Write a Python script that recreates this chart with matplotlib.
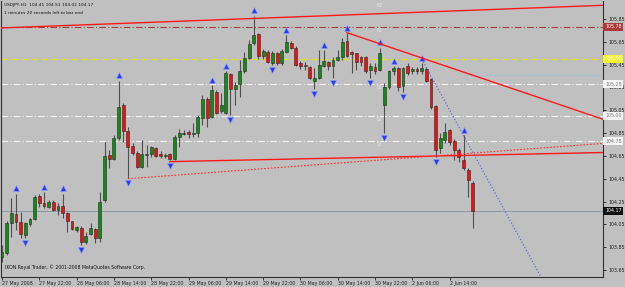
import matplotlib
matplotlib.use("Agg")
import matplotlib.pyplot as plt
import matplotlib.transforms as mtransforms
import numpy as np

# USDJPY H1 bars, 27 May 14:00 .. 2 Jun 19:00
opens = [103.76, 103.80, 104.06, 104.14, 104.07, 103.96, 104.05, 104.10, 104.30, 104.24,
         104.20, 104.25, 104.18, 104.21, 104.15, 104.08, 104.00, 104.02, 103.90, 103.97,
         104.01, 103.93, 104.26, 104.66, 104.62, 104.81, 105.10, 104.87, 104.74, 104.68,
         104.55, 104.66, 104.67, 104.72, 104.67, 104.65, 104.67, 104.62, 104.82, 104.84,
         104.86, 104.84, 104.85, 104.98, 105.15, 104.99, 105.21, 105.04, 105.03, 105.37,
         105.24, 105.28, 105.39, 105.51, 105.64, 105.72, 105.53, 105.56, 105.46, 105.55,
         105.46, 105.56, 105.64, 105.60, 105.46, 105.45, 105.43, 105.31, 105.33, 105.44,
         105.47, 105.44, 105.49, 105.52, 105.66, 105.56, 105.55, 105.52, 105.52, 105.40,
         105.43, 105.40, 105.10, 105.25, 105.39, 105.42, 105.26, 105.44, 105.39, 105.41,
         105.39, 105.41, 105.32, 105.09, 104.72, 104.79, 104.88, 104.78, 104.70, 104.61,
         104.53, 104.41]
highs = [103.87, 104.08, 104.28, 104.32, 104.16, 104.07, 104.11, 104.31, 104.32, 104.33,
         104.26, 104.26, 104.24, 104.32, 104.16, 104.08, 104.04, 104.04, 103.98, 104.06,
         104.02, 104.33, 104.77, 104.70, 104.83, 105.31, 105.11, 104.90, 104.76, 104.69,
         104.79, 104.75, 104.74, 104.73, 104.69, 104.68, 104.68, 104.83, 104.89, 104.88,
         104.88, 104.94, 105.01, 105.18, 105.17, 105.27, 105.23, 105.20, 105.39, 105.38,
         105.30, 105.49, 105.56, 105.67, 105.88, 105.73, 105.59, 105.58, 105.57, 105.56,
         105.59, 105.71, 105.66, 105.61, 105.48, 105.47, 105.44, 105.42, 105.58, 105.58,
         105.48, 105.52, 105.58, 105.68, 105.73, 105.57, 105.55, 105.53, 105.53, 105.46,
         105.46, 105.60, 105.29, 105.40, 105.44, 105.43, 105.43, 105.46, 105.43, 105.43,
         105.46, 105.43, 105.33, 105.10, 104.85, 104.94, 104.89, 104.80, 104.72, 104.83,
         104.54, 104.43]
lows = [103.72, 103.78, 103.94, 104.00, 103.93, 103.93, 104.04, 104.09, 104.20, 104.19,
        104.19, 104.17, 104.13, 104.11, 103.98, 104.00, 103.98, 103.87, 103.88, 103.96,
        103.89, 103.90, 104.25, 104.54, 104.61, 104.79, 104.77, 104.46, 104.66, 104.54,
        104.54, 104.55, 104.64, 104.64, 104.63, 104.63, 104.61, 104.61, 104.73, 104.83,
        104.81, 104.82, 104.82, 104.92, 104.90, 104.98, 105.02, 105.03, 105.02, 105.01,
        105.10, 105.17, 105.38, 105.50, 105.62, 105.50, 105.50, 105.46, 105.45, 105.45,
        105.45, 105.55, 105.59, 105.44, 105.41, 105.40, 105.32, 105.24, 105.32, 105.43,
        105.40, 105.33, 105.48, 105.49, 105.52, 105.38, 105.40, 105.44, 105.38, 105.33,
        105.37, 105.39, 104.85, 105.24, 105.36, 105.22, 105.21, 105.36, 105.37, 105.37,
        105.37, 105.30, 105.06, 104.64, 104.68, 104.76, 104.75, 104.61, 104.60, 104.53,
        104.29, 104.02]
closes = [103.81, 104.06, 104.15, 104.07, 103.97, 104.06, 104.10, 104.29, 104.24, 104.21,
          104.25, 104.18, 104.21, 104.15, 104.08, 104.01, 104.03, 103.90, 103.95, 104.02,
          103.93, 104.25, 104.65, 104.62, 104.81, 105.08, 104.87, 104.73, 104.68, 104.55,
          104.67, 104.67, 104.73, 104.65, 104.65, 104.66, 104.62, 104.82, 104.85, 104.85,
          104.84, 104.85, 104.99, 105.15, 104.98, 105.23, 105.03, 105.10, 105.38, 105.24,
          105.27, 105.39, 105.51, 105.63, 105.71, 105.53, 105.57, 105.47, 105.55, 105.46,
          105.57, 105.65, 105.60, 105.45, 105.44, 105.44, 105.33, 105.33, 105.45, 105.48,
          105.44, 105.49, 105.52, 105.65, 105.53, 105.54, 105.47, 105.47, 105.39, 105.44,
          105.39, 105.55, 105.25, 105.39, 105.42, 105.25, 105.42, 105.38, 105.41, 105.39,
          105.42, 105.31, 105.08, 104.70, 104.81, 104.86, 104.77, 104.70, 104.64, 104.54,
          104.44, 104.17]

# fractal bars (bar index)
up_fractals = [3, 9, 13, 25, 45, 48, 54, 61, 69, 74, 81, 84, 90, 99]
down_fractals = [5, 17, 27, 36, 49, 58, 67, 71, 79, 82, 86, 93]

date_ticks = [0, 8, 16, 24, 32, 40, 48, 56, 64, 72, 80, 88, 96]
date_labels = ["27 May 2008", "27 May 22:00", "28 May 06:00", "28 May 14:00",
               "28 May 22:00", "29 May 06:00", "29 May 14:00", "29 May 22:00",
               "30 May 06:00", "30 May 14:00", "30 May 22:00", "2 Jun 06:00",
               "2 Jun 14:00"]

price_ticks = [105.85, 105.65, 105.45, 105.25, 105.05, 104.85, 104.65,
               104.45, 104.25, 104.05, 103.85, 103.65]

pivot_names = ["R2", "R1", "PP", "S1", "S2", "S3"]
pivot_levels = [106.00, 105.78, 105.50, 105.28, 105.00, 104.78]

# trend lines as (bar, price) end points
top_line = ([-1, 129], [105.77, 105.97])
down_line = ([74, 129], [105.73, 104.97])
support_line = ([36, 129], [104.60, 104.68])
support_dotted = ([27, 129], [104.45, 104.76])
blue_line = ([90, 116], [105.50, 103.56])
blue_level = 105.36
blue_start = 99
last_price = 104.17

bg = "#c0c0c0"
fig = plt.figure(figsize=(6.25, 2.87), dpi=100, facecolor=bg)
ax = fig.add_axes([1.5 / 625, 10 / 287, 601.5 / 625, 276.5 / 287], facecolor=bg)

x = np.arange(len(opens))
o = np.array(opens)
h = np.array(highs)
l = np.array(lows)
c = np.array(closes)

# horizontal levels
ax.axhline(pivot_levels[1], color="#a84040", lw=0.8, ls=(0, (6, 2, 1, 2)), zorder=1)
ax.axhline(pivot_levels[2], color="#e4e400", lw=0.9, ls=(0, (5, 3)), zorder=1)
for lev in pivot_levels[3:]:
    ax.axhline(lev, color="#f2f2f2", lw=0.8, ls=(0, (6, 2, 1, 2)), zorder=1)
ax.plot([blue_start, 130], [blue_level, blue_level], color="#80c8e8", lw=0.8,
        ls=(0, (1, 1.5)), zorder=1)
ax.axhline(last_price, color="#8c9aa6", lw=0.7, zorder=1)

for name, lev in zip(pivot_names, pivot_levels):
    ax.text(81, lev - 0.03, name, color="#e6e6e6", fontsize=3.3, ha="center",
            va="center", zorder=2)

# candles
wick_col = "#505050"
ax.vlines(x, l, h, color=wick_col, lw=0.8, zorder=3)
up = c >= o
body_h = np.maximum(np.abs(c - o), 0.008)
ax.bar(x[up], body_h[up], bottom=np.minimum(o, c)[up], width=0.62,
       color="#108c10", edgecolor="#2a2a2a", lw=0.4, zorder=4)
ax.bar(x[~up], body_h[~up], bottom=np.minimum(o, c)[~up], width=0.62,
       color="#ee1010", edgecolor="#2a2a2a", lw=0.4, zorder=4)

# fractal arrows
ax.plot(up_fractals, h[up_fractals] + 0.045, ls="none", marker="^", ms=4,
        color="#2a3cf0", mec="#8fa0ff", mew=0.4, zorder=5)
ax.plot(down_fractals, l[down_fractals] - 0.045, ls="none", marker="v", ms=4,
        color="#2a3cf0", mec="#8fa0ff", mew=0.4, zorder=5)

# trend lines
ax.plot(*top_line, color="#ff1a1a", lw=1.0, zorder=6)
ax.plot(*down_line, color="#ff1a1a", lw=1.0, zorder=6)
ax.plot(*support_line, color="#ff1a1a", lw=1.0, zorder=6)
ax.plot(*support_dotted, color="#ff3030", lw=0.8, ls=(0, (1.5, 1.5)), zorder=6)
ax.plot(*blue_line, color="#4a5cf0", lw=0.8, ls=(0, (1, 1.8)), zorder=6)

ax.set_xlim(-0.11, 128.9)
ax.set_ylim(103.589, 106.012)

# axes
ax.yaxis.tick_right()
ax.set_yticks(price_ticks)
ax.set_yticklabels(["%.2f" % p for p in price_ticks])
ax.tick_params(axis="y", labelsize=3.4, length=2, pad=2, width=0.6, colors="#202020")
ax.set_xticks(date_ticks)
ax.set_xticklabels(date_labels)
for lab in ax.get_xticklabels():
    lab.set_ha("left")
ax.tick_params(axis="x", labelsize=3.4, length=2, pad=1, width=0.6, colors="#202020")
for side in ["left", "right", "bottom"]:
    ax.spines[side].set_color("#303030")
    ax.spines[side].set_linewidth(0.8)
ax.spines["top"].set_visible(False)

# price boxes on the right
tr = mtransforms.blended_transform_factory(ax.transAxes, ax.transData)
boxes = [(pivot_levels[1], "#b03838", "white"),
         (pivot_levels[2], "#f4f430", "white"),
         (pivot_levels[3], "#f4f4f4", "#808080"),
         (pivot_levels[4], "#f4f4f4", "#808080"),
         (pivot_levels[5], "#f4f4f4", "#808080"),
         (last_price, "#101010", "white")]
for lev, fc, tc in boxes:
    ax.text(1.0035, lev, "%.2f" % lev, transform=tr, fontsize=3.4, color=tc,
            ha="left", va="center", zorder=10, clip_on=False,
            bbox=dict(boxstyle="square,pad=0.35", fc=fc, ec="none"))

fig.text(4 / 625, 1 - 3 / 287, "USDJPY,H1  104.41 104.51 104.02 104.17",
         fontsize=3.1, va="top", ha="left", color="#101010")
fig.text(4 / 625, 1 - 11 / 287, "1 minutes 20 seconds left to bar end",
         fontsize=3.1, va="top", ha="left", color="#101010")
ax.text(0.005, 0.025, "IKON Royal Trader, \u00a9 2001-2008 MetaQuotes Software Corp.",
        transform=ax.transAxes, fontsize=3.3, va="bottom", ha="left", color="#101010")

fig.savefig("out.png", dpi=100, facecolor=bg)
